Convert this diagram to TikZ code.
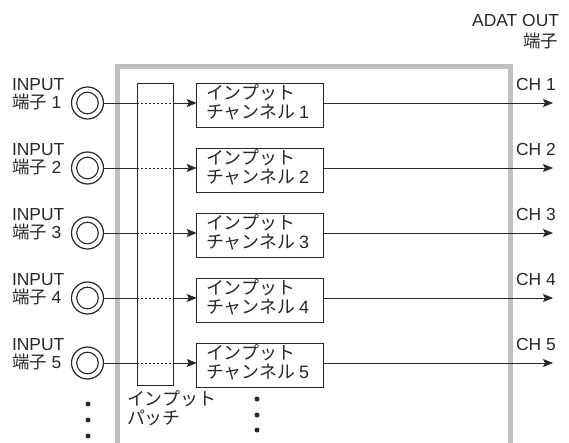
\documentclass[tikz,border=0pt]{standalone}
\usepackage{fontspec}
\setmainfont{Liberation Sans}
\newfontfamily\jp{Noto Sans CJK JP}
\usetikzlibrary{arrows.meta}
\definecolor{framegray}{RGB}{192,192,196}
\definecolor{ink}{RGB}{40,40,40}
\begin{document}
\begin{tikzpicture}[x=1bp,y=-1bp,
  every node/.style={inner sep=0pt, outer sep=0pt, text=ink},
  lbl/.style={font=\fontsize{17.5}{18}\selectfont, align=left},
  jack/.style={circle, draw=ink, line width=1.2bp, minimum size=32bp},
  chbox/.style={draw=ink, line width=0.9bp, minimum width=126.5bp, minimum height=44.5bp, anchor=north west},
  chtext/.style={font=\jp\fontsize{18}{19}\selectfont, align=left},
  wire/.style={draw=ink, line width=0.9bp},
  dotwire/.style={draw=ink, line width=0.9bp, dash pattern=on 2bp off 2bp},
  arr/.style={wire, -{Stealth[length=10bp,width=8bp,inset=2bp]}},
  bigdot/.style={circle, fill=ink, minimum size=5bp}
]
\useasboundingbox (0,0) rectangle (569,443);
% frame
\draw[framegray, line width=5bp] (117,446) -- (117,67) -- (510,67) -- (510,446);
% header
\node[lbl, anchor=base east] (adat) at (559,27) {ADAT OUT};
\node[lbl, anchor=base east] (adatj) at (558,48) {\jp 端子};
% patch
\node[draw=ink, line width=0.9bp, minimum width=36.5bp, minimum height=302bp, anchor=north west] (patch) at (137.3,83) {};
\node[chtext, anchor=north west] (patchlbl) at (127,391) {インプット\\パッチ};
\foreach \k in {1,...,5}{
  \pgfmathsetmacro{\yy}{103+65*(\k-1)}
  \pgfmathsetmacro{\yt}{83+65*(\k-1)}
  \node[jack] (in\k) at (87.5,\yy) {};
  \draw[ink, line width=1.1bp] (in\k.center) circle[radius=10.8bp];
  \node[lbl, anchor=north west] (inlab\k) at (12,\yy-24.5) {INPUT\\{\jp 端子} \k};
  \node[chbox] (ch\k) at (196.7,\yt) {};
  \node[chtext, anchor=north west] (cht\k) at (206,\yt+1.5) {インプット\\チャンネル {\fontsize{18}{19}\selectfont\rmfamily\k}};
  \coordinate (o\k) at (553,\yy);
  \node[lbl, anchor=base west] (chl\k) at (516,\yy-12.5) {CH \k};
  \path[wire] (in\k.east) -- (patch.west |- in\k);
  \path[dotwire] (patch.west |- in\k) -- (patch.east |- in\k);
  \path[arr] (patch.east |- in\k) -- (ch\k.west |- in\k);
  \path[arr] (ch\k.east |- in\k) -- (o\k);
}
% dots
\foreach \i/\y in {1/404,2/420,3/436}{
  \node[bigdot] (ld\i) at (88,\y) {};
}
\foreach \i/\y in {1/399,2/415,3/430}{
  \node[bigdot] (md\i) at (257,\y) {};
}
\end{tikzpicture}
\end{document}
